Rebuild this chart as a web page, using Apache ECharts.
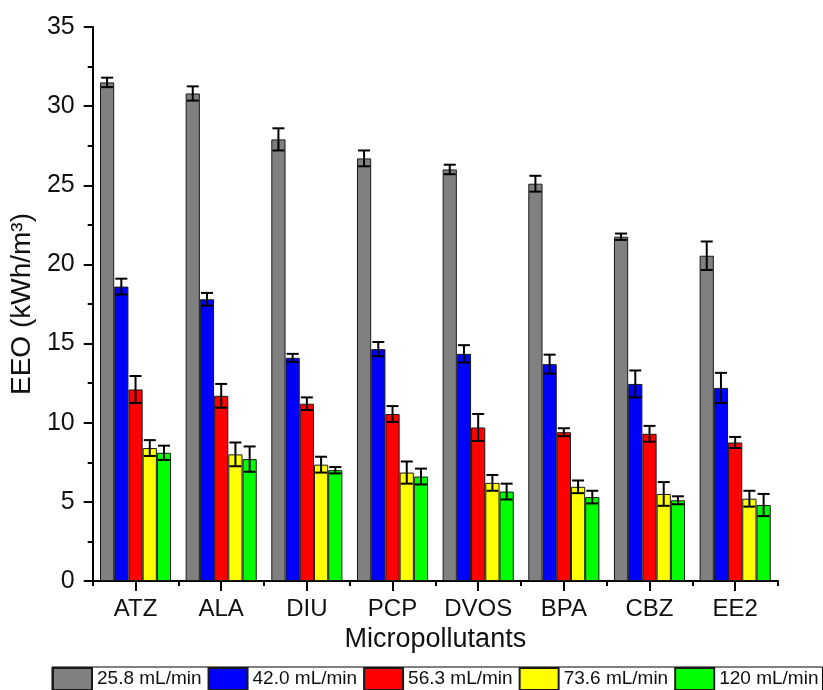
<!DOCTYPE html>
<html>
<head>
<meta charset="utf-8">
<script src="https://cdn.jsdelivr.net/npm/echarts@6/dist/echarts.min.js"></script>
<style>html,body{margin:0;padding:0;background:#fff;}#c{width:823px;height:690px;}</style>
</head>
<body>
<div id="c"></div>
<script>
const categories = ['ATZ', 'ALA', 'DIU', 'PCP', 'DVOS', 'BPA', 'CBZ', 'EE2'];
const seriesNames = ['25.8 mL/min', '42.0 mL/min', '56.3 mL/min', '73.6 mL/min', '120 mL/min'];
const colors = ['#808080', '#0000ff', '#ff0000', '#ffff00', '#00ff00'];

const flow258 = [31.5, 30.8, 27.9, 26.7, 26.0, 25.1, 21.75, 20.55];
const flow420 = [18.6, 17.8, 14.1, 14.65, 14.35, 13.7, 12.45, 12.2];
const flow563 = [12.1, 11.7, 11.2, 10.55, 9.7, 9.4, 9.3, 8.75];
const flow736 = [8.4, 8.0, 7.35, 6.85, 6.2, 5.95, 5.5, 5.2];
const flow120 = [8.1, 7.7, 7.0, 6.6, 5.65, 5.3, 5.1, 4.8];

const err258 = [0.3, 0.45, 0.7, 0.5, 0.3, 0.5, 0.2, 0.9];
const err420 = [0.5, 0.4, 0.25, 0.45, 0.55, 0.6, 0.85, 0.95];
const err563 = [0.85, 0.75, 0.4, 0.5, 0.85, 0.25, 0.5, 0.35];
const err736 = [0.5, 0.75, 0.5, 0.7, 0.5, 0.4, 0.75, 0.5];
const err120 = [0.45, 0.8, 0.2, 0.5, 0.5, 0.4, 0.25, 0.7];

const yTicks = [0, 5, 10, 15, 20, 25, 30, 35];

const values = [flow258, flow420, flow563, flow736, flow120];
const errors = [err258, err420, err563, err736, err120];
const catGap = 0.17;
const nSeries = values.length;

const chart = echarts.init(document.getElementById('c'), null, {renderer: 'canvas'});

const barSeries = values.map((v, i) => ({
  name: seriesNames[i],
  type: 'bar',
  data: v,
  barGap: '0%',
  barCategoryGap: (catGap * 100) + '%',
  itemStyle: {color: colors[i], borderColor: '#1a1a1a', borderWidth: 1},
  emphasis: {disabled: true},
  z: 2
}));

const errSeries = values.map((v, i) => ({
  type: 'custom',
  name: seriesNames[i] + ' err',
  z: 5,
  silent: true,
  encode: {x: 0, y: 1},
  data: v.map((val, j) => [j, val, errors[i][j]]),
  renderItem: function (params, api) {
    const j = api.value(0);
    const val = api.value(1);
    const e = api.value(2);
    const band = api.size([1, 0])[0];
    const bw = band * (1 - catGap) / nSeries;
    const off = (i - (nSeries - 1) / 2) * bw;
    const top = api.coord([j, val + e]);
    const bot = api.coord([j, val - e]);
    const x = top[0] + off;
    const cap = 6;
    const style = {stroke: '#000', lineWidth: 2};
    return {
      type: 'group',
      children: [
        {type: 'line', shape: {x1: x, y1: top[1], x2: x, y2: bot[1]}, style: style},
        {type: 'line', shape: {x1: x - cap, y1: top[1], x2: x + cap, y2: top[1]}, style: style},
        {type: 'line', shape: {x1: x - cap, y1: bot[1], x2: x + cap, y2: bot[1]}, style: style}
      ]
    };
  }
}));

const font = 'Liberation Sans, Arial, sans-serif';

chart.setOption({
  animation: false,
  backgroundColor: '#fff',
  grid: {left: 90, right: 45, top: 27, bottom: 109},
  legend: {
    data: seriesNames,
    left: 52,
    top: 667,
    width: 800,
    padding: [0, 4, 0, 0],
    itemWidth: 39,
    itemHeight: 22,
    itemGap: 6,
    borderColor: '#000',
    borderWidth: 1,
    icon: 'rect',
    textStyle: {fontFamily: font, fontSize: 19, color: '#111'}
  },
  xAxis: [{
    type: 'category',
    data: categories,
    position: 'bottom',
    name: 'Micropollutants',
    nameLocation: 'middle',
    nameGap: 42,
    nameTextStyle: {fontFamily: font, fontSize: 27, color: '#111'},
    axisLine: {show: true, lineStyle: {color: '#000', width: 2}},
    axisTick: {show: true, interval: 0, alignWithLabel: true, length: 10, lineStyle: {color: '#000', width: 2}},
    axisLabel: {interval: 0, hideOverlap: false, fontFamily: font, fontSize: 24, color: '#111', margin: 16},
    splitLine: {show: false}
  }, {
    type: 'category',
    data: categories,
    position: 'bottom',
    axisLine: {show: false},
    axisTick: {show: true, interval: 0, alignWithLabel: false, length: 5, lineStyle: {color: '#000', width: 2}},
    axisLabel: {show: false, interval: 0},
    splitLine: {show: false}
  }],
  yAxis: {
    type: 'value',
    min: yTicks[0],
    max: yTicks[yTicks.length - 1],
    interval: 5,
    name: 'EEO (kWh/m³)',
    nameLocation: 'middle',
    nameGap: 48,
    nameTextStyle: {fontFamily: font, fontSize: 28, color: '#111'},
    axisLine: {show: true, lineStyle: {color: '#000', width: 2}},
    axisTick: {show: true, length: 9, lineStyle: {color: '#000', width: 2}},
    minorTick: {show: true, splitNumber: 2, length: 5, lineStyle: {color: '#000', width: 2}},
    axisLabel: {fontFamily: font, fontSize: 25, color: '#111', margin: 18},
    splitLine: {show: false}
  },
  series: barSeries.concat(errSeries)
});
</script>
</body>
</html>
